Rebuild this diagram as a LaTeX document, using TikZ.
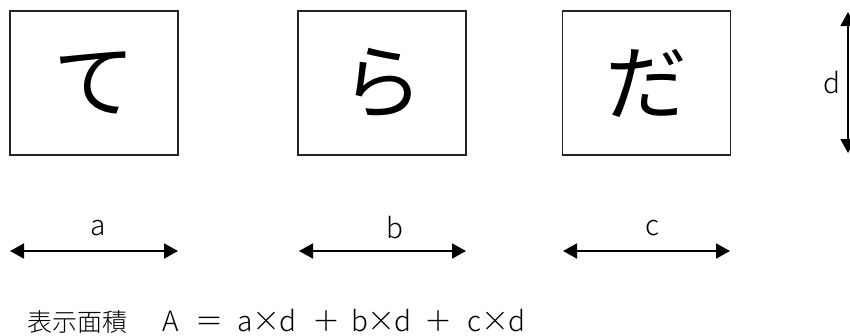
\documentclass[tikz,border=0pt]{standalone}
\usepackage{fontspec}
\usepackage{tikz}
\usetikzlibrary{arrows.meta, positioning, calc}
\newfontfamily\jpfont{Noto Sans CJK JP}
\newfontfamily\jplight{Noto Sans CJK JP Light}
\definecolor{boxgray}{RGB}{35, 35, 35}
% one glyph centred in a fixed cell
\newcommand\cellch[1]{\makebox[21.5pt]{#1}}

\begin{document}
\begin{tikzpicture}[x=1pt, y=-1pt,
    kanabox/.style={draw=boxgray, line width=1.4pt, minimum width=168pt, minimum height=144pt,
          inner sep=0pt, font=\jpfont\fontsize{82}{82}\selectfont},
    dimarrow/.style={line width=1.8pt, {Triangle[length=14pt,width=15pt]}-{Triangle[length=14pt,width=15pt]}},
    dimlabel/.style={font=\jplight\fontsize{28}{28}\selectfont}]
    \useasboundingbox (0,0) rectangle (850,335);

    % the three characters
    \node[kanabox] (te) at (94,83) {て};
    \node[kanabox] (ra) at (382,83) {ら};
    \node[kanabox] (da) at (646.5,83) {だ};

    % widths
    \coordinate (aL) at (10,251);  \coordinate (aR) at (178,251);
    \coordinate (bL) at (299,251); \coordinate (bR) at (466,251);
    \coordinate (cL) at (563,251); \coordinate (cR) at (730,251);
    \draw[dimarrow] (aL) -- (aR);
    \draw[dimarrow] (bL) -- (bR);
    \draw[dimarrow] (cL) -- (cR);
    \node[dimlabel] (alab) at (98,228) {a};
    \node[dimlabel] (blab) at (395,228) {b};
    \node[dimlabel] (clab) at (652,228) {c};

    % height
    \coordinate (dT) at (848,12); \coordinate (dB) at (848,153);
    \draw[dimarrow] (dT) -- (dB);
    \node[dimlabel] (dlab) at (832,83) {d};

    \node[dimlabel, anchor=west, inner sep=0pt] (area) at (27,321)
        {{\fontsize{25}{25}\selectfont 表示面積}\hspace{33pt}\cellch{A}\hspace{17.5pt}\cellch{＝}\hspace{13.5pt}\cellch{a}\cellch{×}\cellch{d}%
         \hspace{17pt}\cellch{＋}\hspace{12pt}\cellch{b}\cellch{×}\cellch{d}%
         \hspace{14.5pt}\cellch{＋}\hspace{14pt}\cellch{c}\cellch{×}\cellch{d}};
\end{tikzpicture}
\end{document}
